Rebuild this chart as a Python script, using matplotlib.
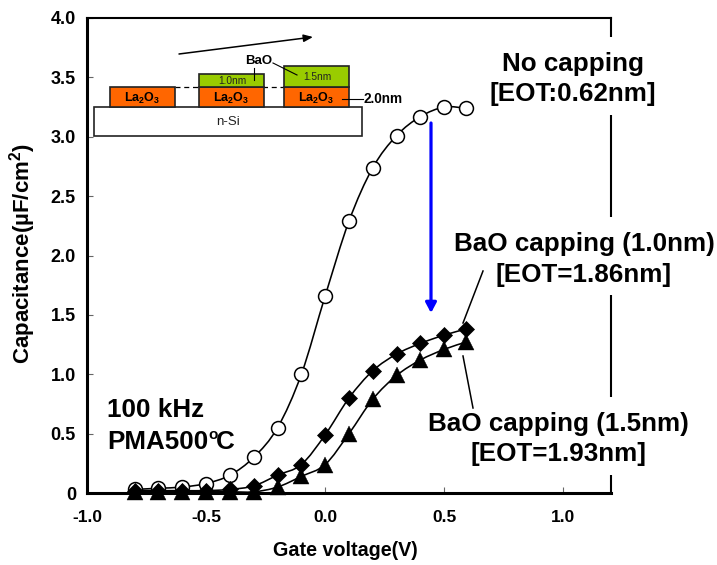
import numpy as np
import matplotlib
matplotlib.use("Agg")
import matplotlib.pyplot as plt
from matplotlib.path import Path
from matplotlib.patches import PathPatch, Rectangle

plt.rcParams['font.family'] = ['Liberation Sans', 'DejaVu Sans']
plt.rcParams['mathtext.fontset'] = 'custom'
plt.rcParams['mathtext.rm'] = 'Liberation Sans'
plt.rcParams['mathtext.bf'] = 'Liberation Sans:bold'
plt.rcParams['mathtext.it'] = 'Liberation Sans:italic'

voltage = [-0.8, -0.7, -0.6, -0.5, -0.4, -0.3, -0.2, -0.1, 0.0, 0.1, 0.2, 0.3, 0.4, 0.5, 0.59]
no_capping = [0.03, 0.04, 0.05, 0.08, 0.15, 0.30, 0.55, 1.00, 1.66, 2.29, 2.74, 3.01, 3.17, 3.25, 3.24]
bao_10 = [0.02, 0.02, 0.02, 0.02, 0.03, 0.06, 0.15, 0.24, 0.49, 0.80, 1.03, 1.17, 1.26, 1.33, 1.38]
bao_15 = [0.01, 0.01, 0.01, 0.01, 0.01, 0.01, 0.05, 0.14, 0.24, 0.50, 0.79, 0.99, 1.12, 1.21, 1.27]
x_ticks = [-1.0, -0.5, 0.0, 0.5, 1.0]
y_ticks = [0.0, 0.5, 1.0, 1.5, 2.0, 2.5, 3.0, 3.5, 4.0]
y_tick_labels = ['0', '0.5', '1.0', '1.5', '2.0', '2.5', '3.0', '3.5', '4.0']

W, H = 717, 565
fig = plt.figure(figsize=(W / 100, H / 100), dpi=100, facecolor='white')
ax = fig.add_axes([87 / W, (H - 493) / H, 524 / W, 475 / H])
ax.set_xlim(-1.0, 1.2)
ax.set_ylim(0, 4.0)


def smooth_line(axes, xs, ys):
    xs, ys = np.asarray(xs, float), np.asarray(ys, float)
    verts = [(xs[0], ys[0])]
    codes = [Path.MOVETO]
    n = len(xs)
    for i in range(n - 1):
        i0, i3 = max(i - 1, 0), min(i + 2, n - 1)
        c1 = (xs[i] + (xs[i + 1] - xs[i0]) / 6, ys[i] + (ys[i + 1] - ys[i0]) / 6)
        c2 = (xs[i + 1] - (xs[i3] - xs[i]) / 6, ys[i + 1] - (ys[i3] - ys[i]) / 6)
        verts += [c1, c2, (xs[i + 1], ys[i + 1])]
        codes += [Path.CURVE4] * 3
    axes.add_patch(PathPatch(Path(verts, codes), fill=False, ec='black', lw=1.15, zorder=2, clip_on=False))


for series in (no_capping, bao_10, bao_15):
    smooth_line(ax, voltage, series)

ax.plot(voltage, no_capping, ls='none', marker='o', ms=10, mfc='white', mec='black', mew=1.1, zorder=3, clip_on=False)
ax.plot(voltage, bao_10, ls='none', marker='D', ms=8, mfc='black', mec='black', mew=0.5, zorder=4, clip_on=False)
ax.plot(voltage, bao_15, ls='none', marker='^', ms=11.5, mfc='black', mec='black', mew=0.3, zorder=5, clip_on=False)

ax.set_xticks(x_ticks)
ax.set_xticklabels([f'{v:.1f}' for v in x_ticks], fontsize=12.5, fontweight='bold')
ax.set_yticks(y_ticks)
ax.set_yticklabels(y_tick_labels, fontsize=13, fontweight='bold')
ax.tick_params(axis='both', direction='in', length=4, width=0.8, color='#666666')
ax.tick_params(axis='x', pad=12)
ax.tick_params(axis='y', pad=8)
for name, lw in (('left', 2.2), ('bottom', 2.2), ('top', 1.5), ('right', 1.5)):
    ax.spines[name].set_linewidth(lw)
ax.set_xlabel('Gate voltage(V)', fontsize=14.2, fontweight='bold')
ax.xaxis.set_label_coords((345 - 87) / 524, -(551 - 493) / 475, transform=ax.transAxes)
ax.xaxis.label.set_va('center')
ax.set_ylabel('Capacitance(µF/cm$^{\\mathbf{2}}$)', fontsize=16, fontweight='bold')
ax.yaxis.set_label_coords(-(87 - 23) / 524, (493 - 254) / 475, transform=ax.transAxes)
ax.yaxis.label.set_va('center')

# overlay in image pixels for the annotations and inset
ov = fig.add_axes([0, 0, 1, 1], facecolor='none', zorder=10)
ov.set_xlim(0, W)
ov.set_ylim(H, 0)
ov.axis('off')

# gaps of the right frame behind the labels
for y0, y1 in ((37, 115), (217, 295), (397, 475)):
    ov.add_patch(Rectangle((606, y0), 10, y1 - y0, fc='white', ec='none', zorder=1))

ORANGE = '#FF6600'
GREEN = '#99CC00'
EDGE = '#222222'
ov.add_patch(Rectangle((94, 107), 268, 29, fc='white', ec=EDGE, lw=1.2, zorder=2))
for x0 in (110, 199, 284):
    ov.add_patch(Rectangle((x0, 87), 65, 20, fc=ORANGE, ec=EDGE, lw=1.2, zorder=3))
    ov.text(x0 + 32.5, 98, r'$\mathbf{La_2O_3}$', fontsize=9, ha='center', va='center', zorder=5)
ov.add_patch(Rectangle((199, 74), 65, 13, fc=GREEN, ec=EDGE, lw=1.2, zorder=3))
ov.add_patch(Rectangle((284, 66), 65, 21, fc=GREEN, ec=EDGE, lw=1.2, zorder=3))
ov.plot([175, 284], [87, 87], color='black', lw=0.9, ls=(0, (4, 3)), zorder=2)
ov.text(228, 122, 'n-Si', fontsize=9.5, ha='center', va='center', color='#222222', zorder=5)
ov.text(232, 81, '1.0nm', fontsize=7.3, ha='center', va='center', color='#222222', zorder=5)
ov.text(317, 77, '1.5nm', fontsize=7.3, ha='center', va='center', color='#222222', zorder=5)
ov.text(259, 61, 'BaO', fontsize=9.5, fontweight='bold', ha='center', va='center', zorder=5)
ov.text(363, 99, '2.0nm', fontsize=9.8, fontweight='bold', ha='left', va='center', zorder=5)
ov.plot([254, 254], [68, 80], color='black', lw=0.8, zorder=5)
ov.plot([273, 297], [63, 75], color='black', lw=0.8, zorder=5)
ov.plot([342, 363], [99, 99], color='black', lw=0.8, zorder=5)
ov.annotate('', xy=(313, 37), xytext=(179, 54),
            arrowprops=dict(arrowstyle='-|>,head_width=0.22,head_length=0.55', color='black', lw=1.1, shrinkA=0, shrinkB=0))

# blue arrow
ov.annotate('', xy=(431, 313), xytext=(431, 123),
            arrowprops=dict(arrowstyle='-|>,head_width=0.32,head_length=0.6', color='#0000FF', lw=2.3, shrinkA=0, shrinkB=0))

# leader lines
ov.plot([463, 483], [323, 271], color='black', lw=1.1)
ov.plot([463, 473], [356, 408], color='black', lw=1.1)

# labels
fs = 18.7
ov.text(573, 64, 'No capping', fontsize=fs, fontweight='bold', ha='center', va='center')
ov.text(573, 94, '[EOT:0.62nm]', fontsize=fs, fontweight='bold', ha='center', va='center')
ov.text(584, 244, 'BaO capping (1.0nm)', fontsize=fs, fontweight='bold', ha='center', va='center')
ov.text(584, 275, '[EOT=1.86nm]', fontsize=fs, fontweight='bold', ha='center', va='center')
ov.text(558, 424, 'BaO capping (1.5nm)', fontsize=fs, fontweight='bold', ha='center', va='center')
ov.text(558, 454, '[EOT=1.93nm]', fontsize=fs, fontweight='bold', ha='center', va='center')
ov.text(107, 410, '100 kHz', fontsize=fs, fontweight='bold', ha='left', va='center')
ov.text(107, 442, 'PMA500', fontsize=fs, fontweight='bold', ha='left', va='center')
ov.text(208, 435, 'o', fontsize=11, fontweight='bold', ha='left', va='center')
ov.text(216, 442, 'C', fontsize=fs, fontweight='bold', ha='left', va='center')

fig.savefig('out.png', dpi=100, facecolor='white')
